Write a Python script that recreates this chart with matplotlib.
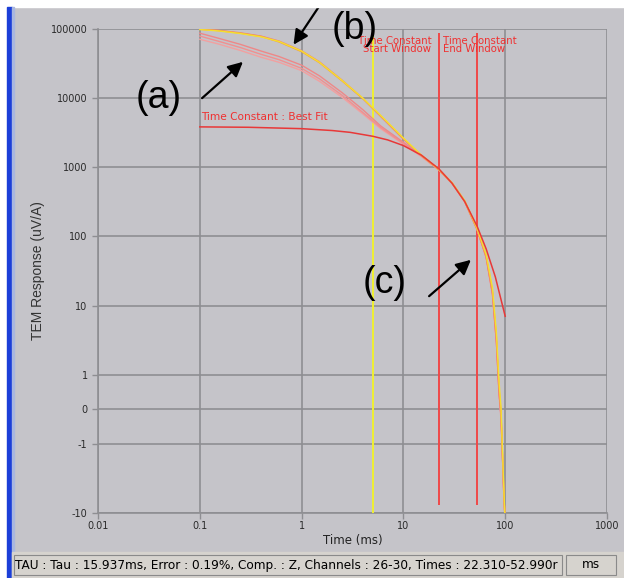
import matplotlib.pyplot as plt
from matplotlib.patches import Rectangle

W, H = 624, 578

# decay curves (time in ms, response in uV/A)
t_data = [0.1, 0.15, 0.25, 0.4, 0.6, 1.0, 1.5, 2.5, 4, 6, 10, 15, 22, 30, 40, 53, 65, 75, 82, 87, 91, 94, 97, 99]
yellow_b = [98000, 94000, 86000, 77000, 66000, 48000, 33000, 18000, 10000, 5600, 2650, 1500, 950, 600, 330, 130, 55, 18, 4, 0.8, 0.05, -1.2, -4.5, -10]
orange_b = [99000, 95000, 87000, 78000, 65000, 47000, 32500, 17700, 9800, 5500, 2600, 1490, 945, 595, 325, 128, 52, 16, 3.5, 0.6, -0.1, -1.4, -5, -10]
pink_b = [100000, 96000, 88000, 79000, 67000, 48500, 33500, 18200, 9900, 5400, 2550, 1480, 940, 590, 320, 126, 50, 15, 3, 0.5, -0.2, -1.5, -5.5, -10]
pink_a1 = [87000, 74000, 60000, 48000, 40000, 30000, 21000, 12000, 6800, 3950, 2300, 1480, 940, 590, 322, 127, 51, 15, 3, 0.5, -0.2, -1.5, -5.5, -10]
pink_a2 = [79000, 67000, 54000, 43000, 36000, 27000, 19000, 11000, 6200, 3750, 2200, 1450, 935, 588, 320, 126, 50, 15, 3, 0.5, -0.2, -1.5, -5.5, -10]
pink_a3 = [71000, 61000, 49000, 39000, 33000, 25000, 17500, 10300, 5900, 3600, 2150, 1430, 930, 586, 318, 125, 49, 14, 2.8, 0.4, -0.3, -1.6, -6, -10]

# best fit time constant curve
t_fit = [0.1, 0.3, 1, 2, 3, 5, 7, 10, 15, 22.3, 30, 40, 53, 65, 80, 100]
v_fit = [3840, 3790, 3620, 3400, 3200, 2810, 2490, 2060, 1500, 950, 590, 320, 140, 66, 26, 7]

# window markers
t_start_line = 5.0
t_window = [22.31, 52.99]

x_ticks = [0.01, 0.1, 1, 10, 100, 1000]
x_labels = ['0.01', '0.1', '1', '10', '100', '1000']
y_ticks = [-10, -1, 0, 1, 10, 100, 1000, 10000, 100000]
y_labels = ['-10', '-1', '0', '1', '10', '100', '1000', '10000', '100000']

status = 'TAU : Tau : 15.937ms, Error : 0.19%, Comp. : Z, Channels : 26-30, Times : 22.310-52.990r'

bg = '#c5c4c9'
grid_c = '#8e8e92'


def fx(x):
    return x / W


def fy(y):
    return 1 - y / H


fig = plt.figure(figsize=(W / 100, H / 100), dpi=100, facecolor=bg)

# screenshot borders
fig.patches.append(Rectangle((0, fy(7)), 1, 7 / H, transform=fig.transFigure, color='white', zorder=0))
fig.patches.append(Rectangle((0, 0), fx(7), 1, transform=fig.transFigure, color='white', zorder=0))
fig.patches.append(Rectangle((fx(7), 0), fx(5), fy(7), transform=fig.transFigure, color='#1c3fd8', zorder=0))
fig.patches.append(Rectangle((fx(12), 0), fx(2), fy(7), transform=fig.transFigure, color='#a9b7e0', zorder=0))

# status bar
fig.patches.append(Rectangle((fx(12), 0), 1, 26 / H, transform=fig.transFigure, color='#d6d3ce', zorder=0))
fig.patches.append(Rectangle((fx(14), fy(575)), fx(548), 20 / H, transform=fig.transFigure,
                             facecolor='#d6d3ce', edgecolor='#8a8a8a', lw=0.8, zorder=1))
fig.patches.append(Rectangle((fx(566), fy(575)), fx(50), 20 / H, transform=fig.transFigure,
                             facecolor='#d6d3ce', edgecolor='#8a8a8a', lw=0.8, zorder=1))
fig.text(fx(15), fy(565), status, fontsize=8.7, va='center', ha='left', color='black')
fig.text(fx(591), fy(565), 'ms', fontsize=8.7, va='center', ha='center', color='black')

ax = fig.add_axes([fx(98), fy(513), (607 - 98) / W, (513 - 29) / H])
ax.set_facecolor(bg)
ax.set_xscale('log')
ax.set_yscale('symlog', linthresh=1, linscale=0.45)
ax.set_xlim(0.01, 1000)
ax.set_ylim(-10, 100000)

ax.set_xticks(x_ticks)
ax.set_xticklabels(x_labels)
ax.set_yticks(y_ticks)
ax.set_yticklabels(y_labels)
ax.minorticks_off()
ax.tick_params(axis='both', colors=grid_c, labelcolor='#2a2a2a', labelsize=7, length=4, width=1)
ax.tick_params(axis='x', pad=2)
ax.grid(True, color=grid_c, lw=1.2)
ax.set_axisbelow(True)
for s in ['top', 'right']:
    ax.spines[s].set_visible(False)
for s in ['left', 'bottom']:
    ax.spines[s].set_color(grid_c)
    ax.spines[s].set_linewidth(1.2)

ax.set_xlabel('Time (ms)', fontsize=8.5, color='#222222', labelpad=2)
ax.set_ylabel('TEM Response (uV/A)', fontsize=10, color='#333333', labelpad=4,
              family='Liberation Sans')

# window lines
ax.vlines(t_start_line, -10, 100000, color='#f0f030', lw=1.4, zorder=3)
ax.vlines(t_window, -7.6, 87000, color='#f04848', lw=1.4, zorder=3)

# data curves
ax.plot(t_data, pink_a3, color='#f2a0a0', lw=1.0, zorder=4)
ax.plot(t_data, pink_a2, color='#f09090', lw=1.0, zorder=4)
ax.plot(t_data, pink_a1, color='#ee8888', lw=1.0, zorder=4)
ax.plot(t_data, pink_b, color='#f08080', lw=1.0, zorder=4)
ax.plot(t_data, orange_b, color='#f5a040', lw=1.0, zorder=4)
ax.plot(t_data, yellow_b, color='#f4e030', lw=1.0, zorder=5)

# best fit
ax.plot(t_fit, v_fit, color='#e83838', lw=1.1, zorder=6)

ax.text(18.8, 80000, 'Time Constant\nStart Window', color='#f03030', fontsize=7.3,
        ha='right', va='top', linespacing=0.8, zorder=7)
ax.text(24.5, 80000, 'Time Constant\nEnd Window', color='#f03030', fontsize=7.3,
        ha='left', va='top', linespacing=0.8, zorder=7)
ax.text(0.102, 5300, 'Time Constant : Best Fit', color='#f03030', fontsize=7.6,
        ha='left', va='center', zorder=7)

# callouts
for lab, (x, y) in [('(a)', (159, 98)), ('(b)', (355, 29)), ('(c)', (385, 283))]:
    fig.text(fx(x), fy(y), lab, fontsize=27, ha='center', va='center', color='black',
             family='Liberation Sans', zorder=10)
for tail, tip in [((200, 100), (245, 60)), ((326, -4), (292, 47)), ((427, 298), (473, 258))]:
    ax.annotate('', xy=(tip[0], H - tip[1]), xytext=(tail[0], H - tail[1]),
                xycoords='figure pixels', textcoords='figure pixels', annotation_clip=False,
                arrowprops=dict(arrowstyle='-|>', color='black', lw=1.6, mutation_scale=22))

fig.savefig('out.png', dpi=100, facecolor=bg)
